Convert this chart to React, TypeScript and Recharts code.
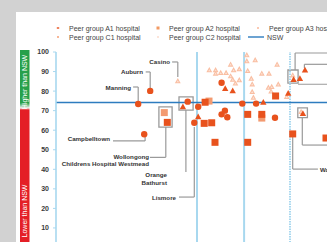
import React from "react";
import {
  ScatterChart,
  Scatter,
  XAxis,
  YAxis,
  ReferenceLine,
  ReferenceArea,
  ReferenceDot,
} from "recharts";

// ---------- data ----------
const yTicks = [10, 20, 30, 40, 50, 60, 70, 80, 90, 100];
const nswValue = 74.2;
const groupDividers = [47, 62.7];
const dottedDivider = 78;

// Peer group A1 hospitals (order, score)
const a1Order = [31.4, 27.4, 29.4, 43.9, 46.1, 47.4, 55.2, 56.3, 57.1, 55.2, 62.1, 66.7, 73.0];
const a1Score = [80.1, 73.4, 57.9, 74.6, 63.8, 72.0, 68.1, 70.0, 66.6, 84.3, 73.6, 73.6, 66.4];

// Peer group A2 hospitals
const a2Order = [37.1, 49.7, 49.4, 51.9, 53.0, 63.9, 68.6, 63.9, 73.2, 78.9, 90.0];
const a2Score = [64.0, 74.3, 63.5, 63.8, 53.8, 68.1, 68.1, 53.8, 77.5, 58.1, 56.0];

// Peer group A3 hospitals
const a3Order = [
  40.6, 51.1, 53.2, 53.2, 54.9, 56.7, 58.2, 59.2, 61.1, 58.2, 58.9, 59.8, 61.1,
  63.6, 63.6, 66.4, 63.9, 68.6, 71.0, 73.7, 65.1, 65.4, 70.8, 71.9, 74.1, 65.4,
  65.8, 71.7, 76.9, 78.9, 81.7,
];
const a3Score = [
  85.2, 90.8, 90.8, 89.1, 89.4, 89.4, 93.7, 90.8, 91.3, 87.7, 86.0, 84.0, 85.7,
  98.5, 95.4, 95.9, 90.4, 89.1, 89.1, 93.7, 86.5, 83.6, 81.9, 82.3, 83.5, 79.7,
  76.8, 79.9, 77.1, 88.2, 69.5,
];

// Peer group C1 hospitals
const c1Order = [42.3, 47.4, 56.4, 58.9, 69.1, 77.4, 79.2, 81.3, 83.0, 82.3];
const c1Score = [72.0, 66.9, 81.4, 80.2, 74.3, 78.9, 86.0, 86.5, 90.8, 68.6];

// Peer group C2 hospitals
const c2Order = [36.1, 51.0, 68.6];
const c2Score = [69.0, 74.9, 66.2];

// Annotation labels
const labelNames = [
  "Casino",
  "Auburn",
  "Manning",
  "Campbelltown",
  "Wollongong",
  "Childrens Hospital Westmead",
  "Orange",
  "Bathurst",
  "Lismore",
  "Wagga Wagga",
];
const labelOrder = [38, 29, 25, 18, 31, 31, 37, 37, 40, 88];
const labelScore = [94.9, 89.8, 81.8, 55.5, 46.6, 43.1, 37.1, 33.5, 25.8, 40.1];
const labelAnchor = ["end", "end", "end", "end", "end", "end", "end", "end", "end", "start"];

// Leader line paths (order, score pairs)
const leaderPaths: number[][][] = [
  [[38.7, 94.9], [40.6, 94.9], [40.6, 87.2]],
  [[29.9, 89.8], [31.4, 89.8], [31.4, 81.6]],
  [[25.7, 82.1], [27.4, 82.1], [27.4, 74.9]],
  [[19, 54.5], [29.7, 54.5], [29.7, 56.5]],
  [[36.6, 61.6], [36.6, 46.1], [31.3, 46.1]],
  [[43.3, 70.3], [43.3, 38.6]],
  [[41, 25.8], [46.1, 25.8], [46.1, 61.6]],
  [[79.7, 90.8], [79.7, 99.5], [92, 99.5]],
  [[82.8, 91.8], [82.8, 93.7], [92, 93.7]],
  [[80.7, 83.5], [92, 83.5]],
  [[82.1, 66.4], [82.1, 52.4], [92, 52.4]],
  [[78.9, 56.5], [78.9, 40.1], [87.3, 40.1]],
];

// Highlight boxes [x1, x2, y1, y2]
const boxes = [
  [34.3, 38.7, 71.9, 61.6],
  [41.0, 45.7, 77.0, 70.3],
  [77.3, 80.7, 90.8, 84.1],
  [80.6, 83.8, 71.4, 66.4],
];

const legendItems = [
  "Peer group A1 hospital",
  "Peer group A2 hospital",
  "Peer group A3 hospital",
  "Peer group C1 hospital",
  "Peer group C2 hospital",
  "NSW",
];

// ---------- styles ----------
const DARK = "#e8521d";
const LIGHT = "#f9bea2";
const LIGHTSQ = "#f39a70";
const AXIS_BLUE = "#a8d8ef";
const NSW_BLUE = "#2d7cbf";
const GREY_LINE = "#9a9a9a";
const FONT = "'Liberation Sans', Arial, sans-serif";

const zip = (xs: number[], ys: number[]) => xs.map((x, i) => ({ x, y: ys[i] }));

const DarkCircle = (p: any) => <circle cx={p.cx} cy={p.cy} r={3.2} fill={DARK} />;
const DarkSquare = (p: any) => (
  <rect x={p.cx - 3.5} y={p.cy - 3.5} width={7} height={7} fill={DARK} />
);
const LightSquare = (p: any) => (
  <rect x={p.cx - 3.5} y={p.cy - 3.5} width={7} height={7} fill={LIGHTSQ} />
);
const tri = (cx: number, cy: number, s: number) =>
  `${cx},${cy - s} ${cx + s},${cy + s * 0.8} ${cx - s},${cy + s * 0.8}`;
const DarkTriangle = (p: any) => <polygon points={tri(p.cx, p.cy, 3.2)} fill={DARK} />;
const LightTriangle = (p: any) => (
  <g>
    <polygon points={tri(p.cx, p.cy, 2.9)} fill={LIGHT} />
    <polygon points={tri(p.cx, p.cy + 0.4, 1.1)} fill="#fde3d6" />
  </g>
);

export default function App() {
  const segs: { a: { x: number; y: number }; b: { x: number; y: number } }[] = [];
  leaderPaths.forEach((path) => {
    for (let i = 0; i < path.length - 1; i++) {
      segs.push({
        a: { x: path[i][0], y: path[i][1] },
        b: { x: path[i + 1][0], y: path[i + 1][1] },
      });
    }
  });

  const legendCols = [58, 158, 258];
  const legendRows = [28, 37];

  return (
    <div
      style={{
        position: "fixed",
        left: 0,
        top: 0,
        width: 327,
        height: 242,
        overflow: "hidden",
        background: "#ffffff",
        fontFamily: FONT,
      }}
    >
      <div style={{ position: "absolute", left: 0, top: 0, width: 327, height: 12, background: "#d2d2d2" }} />
      <div style={{ position: "absolute", left: 0, top: 0, width: 16, height: 242, background: "#d2d2d2" }} />

      {/* side indicator bar */}
      <svg style={{ position: "absolute", left: 20, top: 50 }} width={10} height={200}>
        <defs>
          <linearGradient id="sideGrad" x1="0" y1="0" x2="0" y2="1">
            <stop offset="0" stopColor="#27a04a" />
            <stop offset="0.265" stopColor="#27a04a" />
            <stop offset="0.29" stopColor="#f2f2f2" />
            <stop offset="0.3" stopColor="#e41f26" />
            <stop offset="1" stopColor="#e41f26" />
          </linearGradient>
        </defs>
        <rect x={0} y={0} width={9.5} height={200} fill="url(#sideGrad)" />
        <text
          x={0}
          y={0}
          transform="translate(7.3,32) rotate(-90)"
          textAnchor="middle"
          fontSize={7}
          fill="#ffffff"
          fontFamily={FONT}
        >
          Higher than NSW
        </text>
        <text
          x={0}
          y={0}
          transform="translate(7.3,161) rotate(-90)"
          textAnchor="middle"
          fontSize={7}
          fill="#ffffff"
          fontFamily={FONT}
        >
          Lower than NSW
        </text>
      </svg>

      {/* legend */}
      <svg style={{ position: "absolute", left: 0, top: 0 }} width={327} height={45}>
        {legendItems.map((name, i) => {
          const col = legendCols[i % 3];
          const row = legendRows[Math.floor(i / 3)];
          let marker: React.ReactNode = null;
          if (i === 0) marker = <rect x={col - 1.2} y={row - 0.7} width={2.4} height={1.4} fill={DARK} />;
          if (i === 1) marker = <rect x={col - 1.5} y={row - 1.5} width={3} height={3} fill="#f39a63" />;
          if (i === 2) marker = <rect x={col - 1} y={row - 1} width={2} height={2} fill="#fbc9b3" />;
          if (i === 3) marker = <rect x={col - 1} y={row - 1} width={2} height={2} fill="#f8b797" />;
          if (i === 4) marker = <rect x={col - 0.8} y={row - 0.8} width={1.6} height={1.6} fill="#fbd5c4" />;
          if (i === 5)
            marker = <line x1={col - 10} x2={col + 6} y1={row} y2={row} stroke={NSW_BLUE} strokeWidth={1.4} />;
          return (
            <g key={name}>
              {marker}
              <text
                x={i === 5 ? col + 9 : col + 11}
                y={row}
                dominantBaseline="central"
                fontSize={7}
                fill="#444"
                fontFamily={FONT}
              >
                {name}
              </text>
            </g>
          );
        })}
      </svg>

      <div style={{ position: "absolute", left: 0, top: 0 }}>
        <ScatterChart width={356} height={260} margin={{ top: 52, right: 0, bottom: 12.5, left: 0 }}>
          <XAxis type="number" dataKey="x" domain={[0, 100]} hide height={0} />
          <YAxis
            type="number"
            dataKey="y"
            domain={[0, 100]}
            ticks={yTicks}
            width={56}
            tickSize={3}
            tickMargin={4}
            axisLine={{ stroke: AXIS_BLUE, strokeWidth: 1.6 }}
            tickLine={{ stroke: AXIS_BLUE, strokeWidth: 1 }}
            tick={{ fontSize: 7, fill: "#3a3a3a", fontWeight: "bold", fontFamily: FONT }}
            interval={0}
          />
          {groupDividers.map((g) => (
            <ReferenceLine key={g} x={g} stroke={AXIS_BLUE} strokeWidth={2} ifOverflow="visible" />
          ))}
          <ReferenceLine
            x={dottedDivider}
            stroke={AXIS_BLUE}
            strokeWidth={2}
            strokeDasharray="1.5 1"
            ifOverflow="visible"
          />
          <ReferenceLine y={nswValue} stroke={NSW_BLUE} strokeWidth={1.4} ifOverflow="visible" />
          {segs.map((s, i) => (
            <ReferenceLine
              key={"seg" + i}
              segment={[s.a, s.b]}
              stroke={GREY_LINE}
              strokeWidth={1.2}
              ifOverflow="visible"
            />
          ))}
          {boxes.map((b, i) => (
            <ReferenceArea
              key={"box" + i}
              x1={b[0]}
              x2={b[1]}
              y1={b[2]}
              y2={b[3]}
              fill="#ffffff"
              fillOpacity={0}
              stroke={GREY_LINE}
              strokeWidth={1.3}
              ifOverflow="visible"
            />
          ))}
          <Scatter name="Peer group A3 hospital" data={zip(a3Order, a3Score)} shape={LightTriangle} isAnimationActive={false} />
          <Scatter name="Peer group C2 hospital" data={zip(c2Order, c2Score)} shape={LightSquare} isAnimationActive={false} />
          <Scatter name="Peer group A1 hospital" data={zip(a1Order, a1Score)} shape={DarkCircle} isAnimationActive={false} />
          <Scatter name="Peer group A2 hospital" data={zip(a2Order, a2Score)} shape={DarkSquare} isAnimationActive={false} />
          <Scatter name="Peer group C1 hospital" data={zip(c1Order, c1Score)} shape={DarkTriangle} isAnimationActive={false} />
          {labelNames.map((name, i) => (
            <ReferenceDot
              key={"lbl" + i}
              x={labelOrder[i]}
              y={labelScore[i]}
              r={0}
              ifOverflow="visible"
              shape={(p: any) => (
                <text
                  x={p.cx}
                  y={p.cy}
                  textAnchor={labelAnchor[i] as any}
                  dominantBaseline="central"
                  fontSize={6.2}
                  fontWeight="bold"
                  fill="#333"
                  fontFamily={FONT}
                >
                  {name}
                </text>
              )}
            />
          ))}
        </ScatterChart>
      </div>
    </div>
  );
}
